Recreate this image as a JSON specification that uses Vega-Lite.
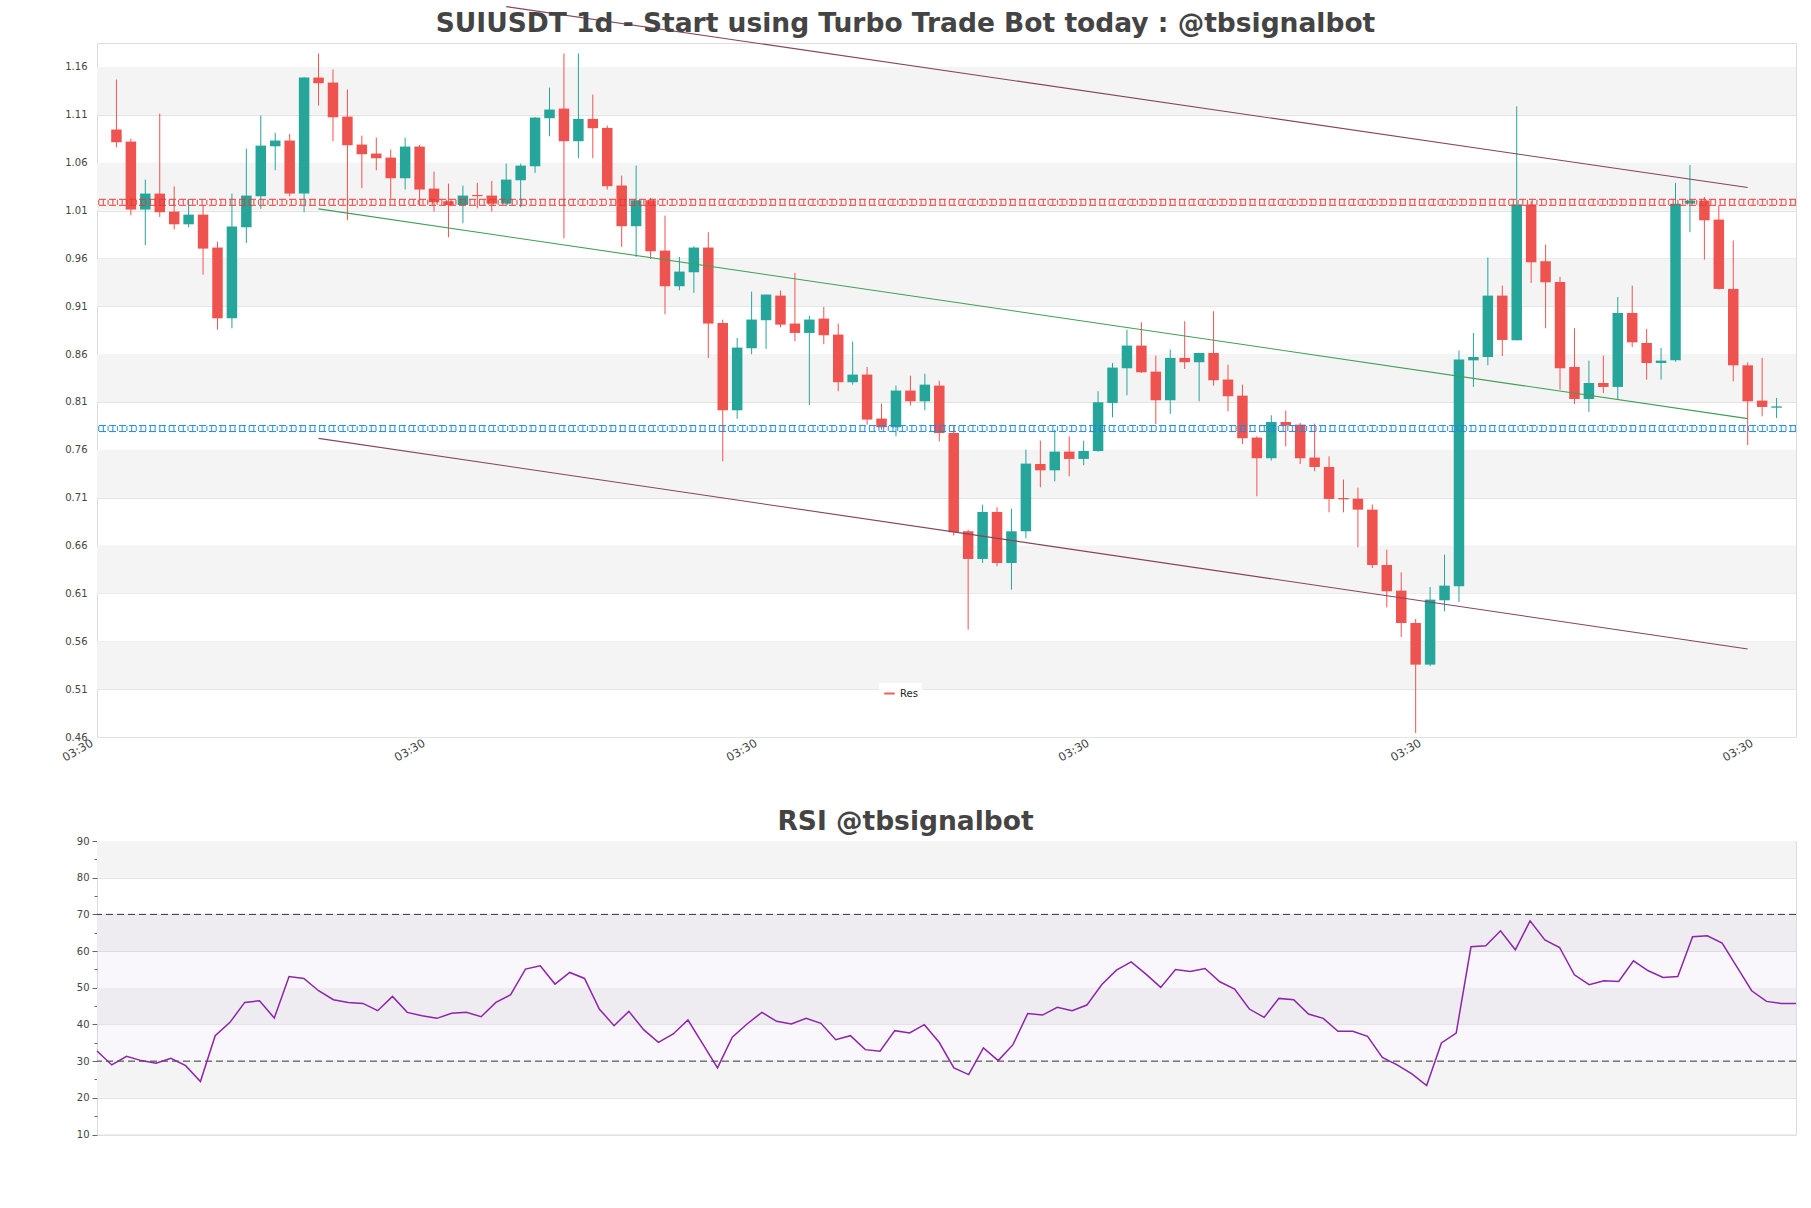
{
  "$schema": "https://vega.github.io/schema/vega-lite/v6.json",
  "background": "white",
  "padding": {"left": 59, "top": 3, "right": 5, "bottom": 5},
  "config": {
    "font": "DejaVu Sans",
    "view": {"stroke": "#dcdcdc"},
    "axis": {"labelFont": "DejaVu Sans", "labelFontSize": 10, "labelColor": "#444", "domainColor": "#d0d0d0", "tickColor": "#777", "gridColor": "#e2e2e2", "labelOverlap": false},
    "axisY": {"labelOverlap": false},
    "title": {"font": "DejaVu Sans", "fontSize": 26.5, "fontWeight": "bold", "color": "#444", "anchor": "middle"}
  },
  "datasets": {
    "candles": [
      {"i":0,"open":1.0946,"high":1.1468,"low":1.0761,"close":1.0813,"rsi":32.77},
      {"i":1,"open":1.0820,"high":1.0848,"low":1.0050,"close":1.0110,"rsi":28.96},
      {"i":2,"open":1.0110,"high":1.0423,"low":0.9737,"close":1.0277,"rsi":31.32},
      {"i":3,"open":1.0277,"high":1.1113,"low":1.0033,"close":1.0082,"rsi":30.14},
      {"i":4,"open":1.0089,"high":1.0353,"low":0.9901,"close":0.9956,"rsi":29.41},
      {"i":5,"open":0.9956,"high":1.0221,"low":0.9925,"close":1.0057,"rsi":30.77},
      {"i":6,"open":1.0057,"high":1.0155,"low":0.9430,"close":0.9702,"rsi":28.77},
      {"i":7,"open":0.9713,"high":0.9775,"low":0.8856,"close":0.8974,"rsi":24.42},
      {"i":8,"open":0.8974,"high":1.0277,"low":0.8870,"close":0.9932,"rsi":36.94},
      {"i":9,"open":0.9925,"high":1.0747,"low":0.9761,"close":1.0256,"rsi":40.57},
      {"i":10,"open":1.0249,"high":1.1092,"low":1.0117,"close":1.0778,"rsi":46.0},
      {"i":11,"open":1.0771,"high":1.0911,"low":1.0521,"close":1.0831,"rsi":46.46},
      {"i":12,"open":1.0831,"high":1.0900,"low":1.0249,"close":1.0277,"rsi":41.75},
      {"i":13,"open":1.0277,"high":1.1495,"low":1.0082,"close":1.1489,"rsi":53.08},
      {"i":14,"open":1.1489,"high":1.1740,"low":1.1196,"close":1.1430,"rsi":52.54},
      {"i":15,"open":1.1437,"high":1.1573,"low":1.0824,"close":1.1074,"rsi":49.18},
      {"i":16,"open":1.1081,"high":1.1364,"low":0.9998,"close":1.0782,"rsi":46.73},
      {"i":17,"open":1.0789,"high":1.0883,"low":1.0333,"close":1.0688,"rsi":46.0},
      {"i":18,"open":1.0695,"high":1.0862,"low":1.0521,"close":1.0646,"rsi":45.74},
      {"i":19,"open":1.0653,"high":1.0737,"low":1.0225,"close":1.0437,"rsi":43.74},
      {"i":20,"open":1.0437,"high":1.0862,"low":1.0319,"close":1.0768,"rsi":47.64},
      {"i":21,"open":1.0768,"high":1.0785,"low":1.0155,"close":1.0319,"rsi":43.29},
      {"i":22,"open":1.0329,"high":1.0507,"low":1.0089,"close":1.0186,"rsi":42.38},
      {"i":23,"open":1.0197,"high":1.0381,"low":0.9821,"close":1.0158,"rsi":41.66},
      {"i":24,"open":1.0158,"high":1.0360,"low":0.9967,"close":1.0256,"rsi":43.02},
      {"i":25,"open":1.0262,"high":1.0388,"low":1.0124,"close":1.0250,"rsi":43.29},
      {"i":26,"open":1.0256,"high":1.0409,"low":1.0089,"close":1.0172,"rsi":42.11},
      {"i":27,"open":1.0172,"high":1.0590,"low":1.0145,"close":1.0423,"rsi":46.0},
      {"i":28,"open":1.0416,"high":1.0590,"low":1.0134,"close":1.0569,"rsi":48.1},
      {"i":29,"open":1.0562,"high":1.1078,"low":1.0493,"close":1.1071,"rsi":55.08},
      {"i":30,"open":1.1064,"high":1.1384,"low":1.0876,"close":1.1155,"rsi":55.99},
      {"i":31,"open":1.1165,"high":1.1740,"low":0.9810,"close":1.0824,"rsi":51.0},
      {"i":32,"open":1.0824,"high":1.1740,"low":1.0646,"close":1.1057,"rsi":54.17},
      {"i":33,"open":1.1057,"high":1.1311,"low":1.0646,"close":1.0960,"rsi":52.54},
      {"i":34,"open":1.0963,"high":1.0987,"low":1.0319,"close":1.0354,"rsi":44.2},
      {"i":35,"open":1.0361,"high":1.0465,"low":0.9720,"close":0.9936,"rsi":39.66},
      {"i":36,"open":0.9936,"high":1.0569,"low":0.9615,"close":1.0207,"rsi":43.56},
      {"i":37,"open":1.0207,"high":1.0232,"low":0.9594,"close":0.9674,"rsi":38.57},
      {"i":38,"open":0.9681,"high":1.0047,"low":0.9016,"close":0.9309,"rsi":35.13},
      {"i":39,"open":0.9309,"high":0.9615,"low":0.9267,"close":0.9462,"rsi":37.39},
      {"i":40,"open":0.9455,"high":0.9727,"low":0.9239,"close":0.9713,"rsi":41.2},
      {"i":41,"open":0.9713,"high":0.9873,"low":0.8560,"close":0.8919,"rsi":34.69},
      {"i":42,"open":0.8926,"high":0.8960,"low":0.7480,"close":0.8013,"rsi":28.16},
      {"i":43,"open":0.8013,"high":0.8769,"low":0.7923,"close":0.8668,"rsi":36.5},
      {"i":44,"open":0.8661,"high":0.9253,"low":0.8598,"close":0.8961,"rsi":40.11},
      {"i":45,"open":0.8954,"high":0.9222,"low":0.8654,"close":0.9222,"rsi":43.29},
      {"i":46,"open":0.9211,"high":0.9264,"low":0.8880,"close":0.8908,"rsi":40.84},
      {"i":47,"open":0.8919,"high":0.9448,"low":0.8734,"close":0.8821,"rsi":40.11},
      {"i":48,"open":0.8821,"high":0.9002,"low":0.8066,"close":0.8961,"rsi":41.66},
      {"i":49,"open":0.8971,"high":0.9093,"low":0.8703,"close":0.8797,"rsi":40.3},
      {"i":50,"open":0.8804,"high":0.8919,"low":0.8212,"close":0.8306,"rsi":35.85},
      {"i":51,"open":0.8306,"high":0.8731,"low":0.8281,"close":0.8386,"rsi":36.94},
      {"i":52,"open":0.8386,"high":0.8466,"low":0.7863,"close":0.7916,"rsi":33.13},
      {"i":53,"open":0.7926,"high":0.8083,"low":0.7811,"close":0.7836,"rsi":32.68},
      {"i":54,"open":0.7836,"high":0.8271,"low":0.7742,"close":0.8219,"rsi":38.3},
      {"i":55,"open":0.8219,"high":0.8375,"low":0.8062,"close":0.8107,"rsi":37.66},
      {"i":56,"open":0.8107,"high":0.8396,"low":0.8013,"close":0.8281,"rsi":39.93},
      {"i":57,"open":0.8271,"high":0.8323,"low":0.7689,"close":0.7776,"rsi":35.13},
      {"i":58,"open":0.7776,"high":0.7846,"low":0.6704,"close":0.6738,"rsi":28.16},
      {"i":59,"open":0.6749,"high":0.6766,"low":0.5721,"close":0.6460,"rsi":26.33},
      {"i":60,"open":0.6460,"high":0.7027,"low":0.6418,"close":0.6951,"rsi":33.58},
      {"i":61,"open":0.6951,"high":0.7000,"low":0.6383,"close":0.6418,"rsi":30.14},
      {"i":62,"open":0.6418,"high":0.6986,"low":0.6139,"close":0.6749,"rsi":34.49},
      {"i":63,"open":0.6749,"high":0.7602,"low":0.6676,"close":0.7456,"rsi":43.0},
      {"i":64,"open":0.7452,"high":0.7696,"low":0.7209,"close":0.7386,"rsi":42.56},
      {"i":65,"open":0.7386,"high":0.7811,"low":0.7271,"close":0.7581,"rsi":44.65},
      {"i":66,"open":0.7581,"high":0.7741,"low":0.7324,"close":0.7505,"rsi":43.74},
      {"i":67,"open":0.7505,"high":0.7696,"low":0.7439,"close":0.7588,"rsi":45.28},
      {"i":68,"open":0.7588,"high":0.8212,"low":0.7580,"close":0.8097,"rsi":50.82},
      {"i":69,"open":0.8090,"high":0.8508,"low":0.7940,"close":0.8459,"rsi":54.8},
      {"i":70,"open":0.8452,"high":0.8856,"low":0.8170,"close":0.8689,"rsi":57.07},
      {"i":71,"open":0.8689,"high":0.8933,"low":0.8403,"close":0.8410,"rsi":53.72},
      {"i":72,"open":0.8417,"high":0.8584,"low":0.7870,"close":0.8118,"rsi":50.1},
      {"i":73,"open":0.8118,"high":0.8647,"low":0.7975,"close":0.8560,"rsi":54.99},
      {"i":74,"open":0.8560,"high":0.8943,"low":0.8445,"close":0.8515,"rsi":54.44},
      {"i":75,"open":0.8515,"high":0.8612,"low":0.8107,"close":0.8612,"rsi":55.26},
      {"i":76,"open":0.8612,"high":0.9048,"low":0.8271,"close":0.8327,"rsi":51.63},
      {"i":77,"open":0.8334,"high":0.8490,"low":0.8003,"close":0.8160,"rsi":49.64},
      {"i":78,"open":0.8166,"high":0.8281,"low":0.7661,"close":0.7721,"rsi":44.2},
      {"i":79,"open":0.7728,"high":0.7742,"low":0.7115,"close":0.7512,"rsi":41.93},
      {"i":80,"open":0.7512,"high":0.7961,"low":0.7487,"close":0.7891,"rsi":47.1},
      {"i":81,"open":0.7891,"high":0.8010,"low":0.7637,"close":0.7853,"rsi":46.73},
      {"i":82,"open":0.7863,"high":0.7881,"low":0.7452,"close":0.7512,"rsi":42.83},
      {"i":83,"open":0.7519,"high":0.7874,"low":0.7376,"close":0.7421,"rsi":41.66},
      {"i":84,"open":0.7421,"high":0.7533,"low":0.6947,"close":0.7087,"rsi":38.12},
      {"i":85,"open":0.7097,"high":0.7289,"low":0.6947,"close":0.7083,"rsi":38.12},
      {"i":86,"open":0.7090,"high":0.7205,"low":0.6582,"close":0.6975,"rsi":36.76},
      {"i":87,"open":0.6975,"high":0.7028,"low":0.6366,"close":0.6397,"rsi":31.04},
      {"i":88,"open":0.6397,"high":0.6557,"low":0.5955,"close":0.6122,"rsi":28.96},
      {"i":89,"open":0.6129,"high":0.6320,"low":0.5645,"close":0.5791,"rsi":26.51},
      {"i":90,"open":0.5791,"high":0.5833,"low":0.4641,"close":0.5356,"rsi":23.33},
      {"i":91,"open":0.5356,"high":0.6167,"low":0.5340,"close":0.6035,"rsi":34.94},
      {"i":92,"open":0.6028,"high":0.6505,"low":0.5913,"close":0.6181,"rsi":37.66},
      {"i":93,"open":0.6174,"high":0.8637,"low":0.6010,"close":0.8543,"rsi":61.16},
      {"i":94,"open":0.8535,"high":0.8821,"low":0.8257,"close":0.8570,"rsi":61.43},
      {"i":95,"open":0.8570,"high":0.9610,"low":0.8483,"close":0.9211,"rsi":65.51},
      {"i":96,"open":0.9211,"high":0.9316,"low":0.8580,"close":0.8748,"rsi":60.34},
      {"i":97,"open":0.8744,"high":1.1189,"low":0.8744,"close":1.0162,"rsi":68.23},
      {"i":98,"open":1.0162,"high":1.0197,"low":0.9343,"close":0.9559,"rsi":63.06},
      {"i":99,"open":0.9570,"high":0.9744,"low":0.8870,"close":0.9350,"rsi":60.98},
      {"i":100,"open":0.9354,"high":0.9406,"low":0.8229,"close":0.8452,"rsi":53.54},
      {"i":101,"open":0.8466,"high":0.8870,"low":0.8079,"close":0.8131,"rsi":50.82},
      {"i":102,"open":0.8131,"high":0.8532,"low":0.7996,"close":0.8298,"rsi":51.9},
      {"i":103,"open":0.8298,"high":0.8584,"low":0.8194,"close":0.8257,"rsi":51.72},
      {"i":104,"open":0.8257,"high":0.9197,"low":0.8124,"close":0.9030,"rsi":57.35},
      {"i":105,"open":0.9030,"high":0.9316,"low":0.8675,"close":0.8723,"rsi":54.63},
      {"i":106,"open":0.8716,"high":0.8863,"low":0.8333,"close":0.8507,"rsi":52.81},
      {"i":107,"open":0.8507,"high":0.8664,"low":0.8333,"close":0.8532,"rsi":53.08},
      {"i":108,"open":0.8535,"high":1.0388,"low":0.8520,"close":1.0172,"rsi":63.88},
      {"i":109,"open":1.0172,"high":1.0576,"low":0.9873,"close":1.0204,"rsi":64.15},
      {"i":110,"open":1.0204,"high":1.0242,"low":0.9587,"close":0.9998,"rsi":62.15},
      {"i":111,"open":1.0005,"high":1.0155,"low":0.9275,"close":0.9281,"rsi":55.71},
      {"i":112,"open":0.9281,"high":0.9786,"low":0.8316,"close":0.8483,"rsi":49.18},
      {"i":113,"open":0.8483,"high":0.8514,"low":0.7650,"close":0.8107,"rsi":46.28},
      {"i":114,"open":0.8114,"high":0.8560,"low":0.7950,"close":0.8048,"rsi":45.74},
      {"i":115,"open":0.8040,"high":0.8142,"low":0.7933,"close":0.8054,"rsi":45.74}
    ],
    "bands": [
      {"lo":0.51,"hi":0.56},{"lo":0.61,"hi":0.66},{"lo":0.71,"hi":0.76},{"lo":0.81,"hi":0.86},
      {"lo":0.91,"hi":0.96},{"lo":1.01,"hi":1.06},{"lo":1.11,"hi":1.16}
    ],
    "trend": [
      {"line":"upper","i":27,"v":1.223},{"line":"upper","i":113,"v":1.034},
      {"line":"mid","i":14,"v":1.0117},{"line":"mid","i":113,"v":0.7926},
      {"line":"lower","i":14,"v":0.772},{"line":"lower","i":113,"v":0.552}
    ],
    "levels": [
      {"name":"Res","v":1.0186},
      {"name":"Sup","v":0.7822}
    ],
    "rsiBands": [
      {"lo":20,"hi":30},{"lo":40,"hi":50},{"lo":60,"hi":70},{"lo":80,"hi":90}
    ],
    "rsiZone": [{"lo":30,"hi":70}],
    "rsiLevels": [{"v":30},{"v":70}]
  },
  "spacing": 43,
  "vconcat": [
    {
      "width": 1699,
      "height": 694,
      "title": {"text": "SUIUSDT 1d - Start using Turbo Trade Bot today : @tbsignalbot", "offset": -33, "dx": -41},
      "layer": [
        {
          "data": {"name": "bands"},
          "mark": {"type": "rect", "color": "#f4f4f4"},
          "encoding": {
            "y": {"field": "lo", "type": "quantitative", "title": null,
              "scale": {"domain": [0.46, 1.185], "nice": false, "zero": false},
              "axis": {"values": [0.46,0.51,0.56,0.61,0.66,0.71,0.76,0.81,0.86,0.91,0.96,1.01,1.06,1.11,1.16], "format": ".2f", "ticks": false, "domain": false, "labelPadding": 10, "gridColor": "#e2e2e2", "labelOverlap": false}},
            "y2": {"field": "hi"}
          }
        },
        {
          "data": {"name": "candles"},
          "mark": {"type": "rule", "strokeWidth": 1},
          "encoding": {
            "x": {"field": "i", "type": "quantitative", "title": null,
              "scale": {"domain": [-1, 116], "nice": false, "zero": false},
              "axis": {"values": [-1,22,45,68,91,114], "labelExpr": "'03:30'", "labelAngle": -30, "labelAlign": "right", "labelBaseline": "top", "labelFontSize": 11.5, "labelOffset": -13, "grid": false, "ticks": false, "domain": false, "labelPadding": 0}},
            "y": {"field": "low", "type": "quantitative", "title": null},
            "y2": {"field": "high"},
            "color": {"condition": {"test": "datum.close >= datum.open", "value": "#26a69a"}, "value": "#ef5350"}
          }
        },
        {
          "data": {"name": "candles"},
          "mark": {"type": "bar", "width": 10.5},
          "encoding": {
            "x": {"field": "i", "type": "quantitative", "title": null},
            "y": {"field": "open", "type": "quantitative", "title": null},
            "y2": {"field": "close"},
            "color": {"condition": {"test": "datum.close >= datum.open", "value": "#26a69a"}, "value": "#ef5350"}
          }
        },
        {
          "data": {"name": "trend"},
          "transform": [{"filter": "datum.line !== 'mid'"}],
          "mark": {"type": "line", "color": "#864459", "strokeWidth": 1.1, "clip": false},
          "encoding": {
            "x": {"field": "i", "type": "quantitative", "title": null},
            "y": {"field": "v", "type": "quantitative", "title": null},
            "detail": {"field": "line"}
          }
        },
        {
          "data": {"name": "trend"},
          "transform": [{"filter": "datum.line === 'mid'"}],
          "mark": {"type": "line", "color": "#3f9f55", "strokeWidth": 1.1},
          "encoding": {
            "x": {"field": "i", "type": "quantitative", "title": null},
            "y": {"field": "v", "type": "quantitative", "title": null}
          }
        },
        {
          "data": {"name": "levels"},
          "transform": [{"filter": "datum.name === 'Res'"}],
          "mark": {"type": "rule", "strokeWidth": 1, "yOffset": -3, "strokeDash": [7, 3], "color": "#e53935"},
          "encoding": {"y": {"field": "v", "type": "quantitative", "title": null}}
        },
        {
          "data": {"name": "levels"},
          "transform": [{"filter": "datum.name === 'Res'"}],
          "mark": {"type": "rule", "strokeWidth": 1, "yOffset": 3, "strokeDash": [7, 3], "color": "#e53935"},
          "encoding": {"y": {"field": "v", "type": "quantitative", "title": null}}
        },
        {
          "data": {"name": "levels"},
          "transform": [{"filter": "datum.name === 'Res'"}],
          "mark": {"type": "rule", "strokeWidth": 5, "strokeDash": [1.2, 3.5], "opacity": 0.8},
          "encoding": {
            "y": {"field": "v", "type": "quantitative", "title": null},
            "color": {"field": "name", "type": "nominal",
              "scale": {"domain": ["Res"], "range": ["#e53935"]},
              "legend": {"orient": "none", "legendX": 782, "legendY": 640, "title": null, "symbolType": "stroke", "symbolStrokeWidth": 2, "symbolDash": [], "symbolSize": 110, "labelFontSize": 10, "labelColor": "#222", "fillColor": "white", "padding": 4}}
          }
        },
        {
          "data": {"name": "levels"},
          "transform": [{"filter": "datum.name === 'Sup'"}],
          "mark": {"type": "rule", "strokeWidth": 1, "yOffset": -3, "strokeDash": [7, 3], "color": "#1e88e5"},
          "encoding": {"y": {"field": "v", "type": "quantitative", "title": null}}
        },
        {
          "data": {"name": "levels"},
          "transform": [{"filter": "datum.name === 'Sup'"}],
          "mark": {"type": "rule", "strokeWidth": 1, "yOffset": 3, "strokeDash": [7, 3], "color": "#1e88e5"},
          "encoding": {"y": {"field": "v", "type": "quantitative", "title": null}}
        },
        {
          "data": {"name": "levels"},
          "transform": [{"filter": "datum.name === 'Sup'"}],
          "mark": {"type": "rule", "strokeWidth": 5, "strokeDash": [1.2, 3.5], "opacity": 0.8, "color": "#1e88e5"},
          "encoding": {"y": {"field": "v", "type": "quantitative", "title": null}}
        }
      ]
    },
    {
      "width": 1699,
      "height": 293.5,
      "title": {"text": "RSI @tbsignalbot", "offset": 1, "dx": -41},
      "layer": [
        {
          "data": {"name": "rsiBands"},
          "mark": {"type": "rect", "color": "#f4f4f4"},
          "encoding": {
            "y": {"field": "lo", "type": "quantitative", "title": null,
              "scale": {"domain": [10, 90], "nice": false, "zero": false},
              "axis": {"values": [10,15,20,25,30,35,40,45,50,55,60,65,70,75,80,85,90], "tickCount": 17,
                "labelExpr": "datum.value % 10 === 0 ? datum.label : ''",
                "tickSize": {"condition": {"test": "datum.value % 10 === 0", "value": 5}, "value": 3},
                "gridOpacity": {"condition": {"test": "datum.value % 10 === 0", "value": 1}, "value": 0},
                "labelOverlap": false, "labelSeparation": 0, "labelBound": false,
                "domain": false, "labelPadding": 3, "tickColor": "#666"}},
            "y2": {"field": "hi"}
          }
        },
        {
          "data": {"name": "rsiZone"},
          "mark": {"type": "rect", "color": "#7b3f9e", "opacity": 0.045},
          "encoding": {
            "y": {"field": "lo", "type": "quantitative", "title": null},
            "y2": {"field": "hi"}
          }
        },
        {
          "data": {"name": "rsiLevels"},
          "mark": {"type": "rule", "color": "#333", "strokeDash": [7, 4], "strokeWidth": 1},
          "encoding": {"y": {"field": "v", "type": "quantitative", "title": null}}
        },
        {
          "data": {"name": "candles"},
          "mark": {"type": "line", "color": "#8e24aa", "strokeWidth": 1.5},
          "encoding": {
            "x": {"field": "i", "type": "quantitative", "title": null, "axis": null,
              "scale": {"domain": [0, 115], "nice": false, "zero": false}},
            "y": {"field": "rsi", "type": "quantitative", "title": null}
          }
        }
      ]
    }
  ]
}
